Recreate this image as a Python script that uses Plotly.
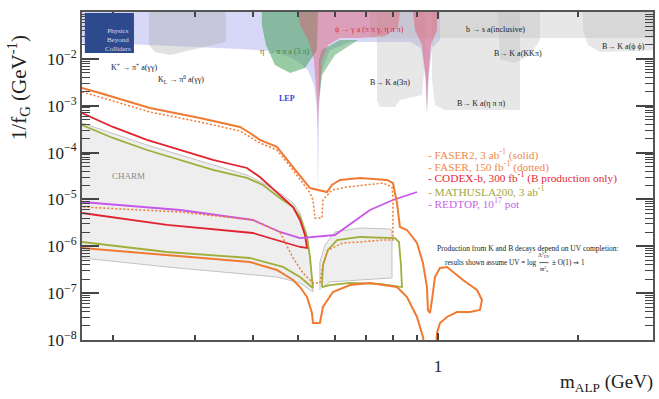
import math
import plotly.graph_objects as go

# ---------------- data (mass in GeV, coupling 1/f_G in GeV^-1) ----------------
faser2_mass = [0.1716, 0.1875, 0.2402, 0.3077, 0.3751, 0.3941, 0.4140, 0.4504, 0.4879, 0.5306,
               0.5771, 0.5916, 0.6154, 0.6796, 0.7768, 0.8003, 0.8163, 0.8284, 0.8577, 0.9013,
               0.9284, 0.9469, 0.9517, 0.9612, 0.9707, 0.9852, 1.0100, 1.0456, 1.1318, 1.2131,
               1.2434, 1.2311, 1.1716, 1.0987, 1.0456, 1.0100, 0.9950, 0.9901, 0.9376, 0.9284,
               0.9013, 0.8577, 0.8163, 0.7140, 0.6468, 0.5944, 0.5658, 0.5574, 0.5385, 0.5358,
               0.5228, 0.5050, 0.4879, 0.4504, 0.3941, 0.2614, 0.1875, 0.1716]
faser2_coup = [2.39e-3, 1.87e-3, 8.94e-4, 5.47e-4, 3.52e-4, 2.62e-4, 1.86e-4, 1.32e-4, 4.92e-5, 1.75e-5,
               1.44e-5, 2.03e-5, 2.60e-5, 2.87e-5, 2.60e-5, 2.24e-5, 8.40e-6, 2.58e-6, 2.23e-6, 1.18e-6,
               4.40e-7, 1.35e-7, 4.37e-8, 3.77e-8, 7.14e-8, 2.21e-7, 3.44e-7, 3.62e-7, 1.91e-7, 1.17e-7,
               7.14e-8, 4.37e-8, 3.96e-8, 3.96e-8, 3.10e-8, 2.31e-8, 1.41e-8, 6.1e-9, 6.1e-9, 1.16e-8,
               3.10e-8, 8.28e-8, 1.35e-7, 1.65e-7, 1.49e-7, 1.06e-7, 5.07e-8, 2.31e-8, 2.31e-8, 3.77e-8,
               8.28e-8, 1.35e-7, 1.91e-7, 3.12e-7, 4.62e-7, 6.52e-7, 8.75e-7, 9.20e-7]

faser_mass = [0.1716, 0.1875, 0.2402, 0.3077, 0.3751, 0.3941, 0.4140, 0.4504, 0.4879, 0.5306,
              0.5385, 0.5438, 0.5630, 0.5658, 0.5771, 0.5916, 0.6372, 0.7616, 0.7963, 0.8003,
              0.8003, 0.7616, 0.6796, 0.6247, 0.5799, 0.5658, 0.5574, 0.5385, 0.5126, 0.4879,
              0.4572, 0.4000, 0.2788, 0.1716]
faser_coup = [1.96e-3, 1.53e-3, 7.35e-4, 4.49e-4, 2.89e-4, 2.15e-4, 1.60e-4, 1.135e-4, 4.25e-5, 1.37e-5,
              9.73e-6, 4.02e-6, 4.02e-6, 9.73e-6, 1.24e-5, 1.59e-5, 1.84e-5, 2.24e-5, 1.84e-5, 1.127e-5,
              1.36e-6, 1.36e-6, 1.235e-6, 1.18e-6, 8.34e-7, 3.99e-7, 1.65e-7, 1.65e-7, 2.69e-7, 5.63e-7,
              2.02e-6, 3.64e-6, 5.40e-6, 6.90e-6]

codex_mass = [0.1716, 0.2000, 0.2367, 0.2788, 0.3281, 0.3883, 0.4140, 0.4572, 0.4879, 0.5050,
              0.5176, 0.5228, 0.5050, 0.4000, 0.2614, 0.1716]
codex_coup = [6.99e-4, 3.52e-4, 1.86e-4, 1.135e-4, 6.95e-5, 4.69e-5, 3.01e-5, 1.24e-5, 6.90e-6, 3.64e-6,
              1.74e-6, 9.20e-7, 9.66e-7, 1.92e-6, 2.85e-6, 5.14e-6]

mathusla_a_mass = [0.1716, 0.2000, 0.2367, 0.2788, 0.3281, 0.3883, 0.4203, 0.4572, 0.4879, 0.5050,
                   0.5228, 0.5306, 0.5385, 0.5050, 0.4642, 0.3941, 0.2614, 0.1716]
mathusla_a_coup = [3.88e-4, 2.05e-4, 1.135e-4, 6.95e-5, 4.25e-5, 2.87e-5, 2.03e-5, 1.07e-5, 6.90e-6, 4.22e-6,
                   1.58e-6, 5.91e-7, 1.29e-7, 2.21e-7, 3.62e-7, 5.63e-7, 7.56e-7, 1.235e-6]
mathusla_b_mass = [0.5630, 0.5658, 0.5799, 0.6064, 0.6796, 0.8083, 0.8243, 0.8325, 0.8366, 0.7504,
                   0.6468, 0.5857, 0.5630]
mathusla_b_coup = [1.35e-7, 3.99e-7, 8.34e-7, 1.36e-6, 1.58e-6, 1.50e-6, 1.235e-6, 3.99e-7, 1.35e-7, 1.57e-7,
                   1.65e-7, 1.49e-7, 1.35e-7]

redtop_mass = [0.1716, 0.2788, 0.4000, 0.4572, 0.5050, 0.6004, 0.7140, 0.8003, 0.9013]
redtop_coup = [8.82e-6, 5.95e-6, 3.64e-6, 2.02e-6, 1.50e-6, 1.74e-6, 5.95e-6, 9.73e-6, 1.44e-5]

charm_a_mass = [0.1716, 0.2367, 0.3883, 0.4203, 0.4572, 0.4879, 0.5050, 0.5228, 0.5306, 0.5385,
                0.5050, 0.4504, 0.2614, 0.1716]
charm_a_coup = [4.28e-4, 1.45e-4, 3.32e-5, 2.24e-5, 1.37e-5, 8.40e-6, 5.14e-6, 1.74e-6, 5.10e-7, 1.06e-7,
                1.65e-7, 2.21e-7, 3.62e-7, 5.63e-7]
charm_b_mass = [0.5574, 0.5574, 0.5715, 0.6004, 0.6796, 0.7885, 0.7963, 0.7963, 0.6796, 0.5857, 0.5630]
charm_b_coup = [1.17e-7, 4.62e-7, 1.07e-6, 2.02e-6, 2.46e-6, 2.34e-6, 2.23e-6, 2.11e-7, 1.91e-7, 1.73e-7, 1.29e-7]

# existing constraints (top)
lep_mass = [0.1716, 1.0100, 1.0100, 0.9707, 0.9563, 0.9469, 0.9376, 0.9193, 0.8706, 0.7504,
            0.6468, 0.5857, 0.5630, 0.5546, 0.5519, 0.5492, 0.5412, 0.5254, 0.5050, 0.4806,
            0.4351, 0.3751, 0.3077, 0.2402, 0.1875, 0.1716]
lep_coup = [1e-1, 1e-1, 2.53e-2, 1.71e-2, 4.52e-3, 6.99e-4, 4.52e-3, 1.71e-2, 2.29e-2, 2.29e-2,
            2.29e-2, 1.55e-2, 5.78e-3, 8.10e-4, 1.127e-5, 8.10e-4, 2.77e-3, 5.78e-3, 8.16e-3, 1.10e-2,
            1.47e-2, 1.62e-2, 1.79e-2, 1.98e-2, 2.18e-2, 2.18e-2]
kdecay_mass = [0.2390, 0.3499, 0.3499, 0.3077, 0.2653, 0.2462, 0.2390]
kdecay_coup = [1e-1, 1e-1, 2.29e-2, 1.71e-2, 1.21e-2, 1.40e-2, 1.98e-2]
eta_mass = [0.4182, 0.5519, 0.5492, 0.5176, 0.4806, 0.4461, 0.4267, 0.4182]
eta_coup = [1e-1, 1e-1, 1.55e-2, 6.38e-3, 4.99e-3, 7.40e-3, 1.98e-2, 5.28e-2]
eta2_mass = [0.5546, 0.5630, 0.6004, 0.6729, 0.6154, 0.5630, 0.5546]
eta2_coup = [1.32e-3, 4.52e-3, 1.21e-2, 2.53e-2, 2.53e-2, 1.55e-2, 9.45e-3]
phi_mass = [0.5000, 0.8284, 0.8203, 0.7691, 0.6796, 0.6154, 0.5799, 0.5630, 0.5546, 0.5519,
            0.5492, 0.5412, 0.5254, 0.5050]
phi_coup = [1e-1, 1e-1, 4.56e-2, 3.07e-2, 2.79e-2, 2.79e-2, 1.98e-2, 9.45e-3, 1.32e-3, 3.03e-4,
            1.32e-3, 9.45e-3, 2.53e-2, 5.28e-2]
phi2_mass = [0.8837, 0.9950, 0.9950, 0.9659, 0.9517, 0.9469, 0.9423, 0.9239, 0.8924]
phi2_coup = [1e-1, 1e-1, 4.13e-2, 1.98e-2, 3.54e-3, 6.99e-4, 3.54e-3, 1.98e-2, 4.13e-2]
bincl_mass = [0.7140, 3.0, 3.0, 0.7140]
bincl_coup = [1e-1, 1e-1, 2.79e-2, 2.79e-2]
b3pi_mass = [0.7393, 0.9376, 0.9376, 0.9239, 0.8284, 0.8083, 0.7504, 0.7393]
b3pi_coup = [1e-1, 1e-1, 9.45e-3, 1.69e-3, 1.32e-3, 9.39e-4, 9.39e-4, 1.32e-3]
betapipi_mass = [0.9707, 1.5008, 1.5008, 1.0353, 0.9852, 0.9707]
betapipi_coup = [1e-1, 1e-1, 8.10e-4, 8.10e-4, 1.035e-3, 3.54e-3]
bkkpi_mass = [1.3463, 1.6572, 1.6572, 1.5770, 1.4640, 1.3597]
bkkpi_coup = [1e-1, 1e-1, 2.53e-2, 1.21e-2, 8.16e-3, 9.45e-3]
bphiphi_mass = [2.0502, 3.0, 3.0, 2.2304, 2.1016, 2.0502]
bphiphi_coup = [1e-1, 1e-1, 1.55e-2, 1.40e-2, 1.98e-2, 4.13e-2]

x_major_vals = [1]
x_major_text = ["1"]
x_minor_vals = [0.2, 0.3, 0.4, 0.5, 0.6, 0.7, 0.8, 0.9, 2]
y_exponents = [-8, -7, -6, -5, -4, -3, -2, -1]

legend_lines = [
    ("- FASER2, 3 ab<sup>-1</sup> (solid)", "#f0884a"),
    ("- FASER, 150 fb<sup>-1</sup> (dotted)", "#f0884a"),
    ("- CODEX-b, 300 fb<sup>-1</sup> (B production only)", "#e4283a"),
    ("- MATHUSLA200, 3 ab<sup>-1</sup>", "#a2a840"),
    ("- REDTOP, 10<sup>17</sup> pot", "#c663e8"),
]

# ---------------- figure ----------------
SERIF = "Liberation Serif"
fig = go.Figure()


def region(m, g, color):
    fig.add_trace(go.Scatter(x=m, y=g, mode="lines", fill="toself", fillcolor=color,
                             line=dict(width=0), hoverinfo="skip"))


region(lep_mass, lep_coup, "rgba(150,150,235,0.38)")
region(kdecay_mass, kdecay_coup, "rgba(170,170,170,0.35)")
region(bincl_mass, bincl_coup, "rgba(185,185,185,0.35)")
region(b3pi_mass, b3pi_coup, "rgba(185,185,185,0.35)")
region(betapipi_mass, betapipi_coup, "rgba(185,185,185,0.35)")
region(bkkpi_mass, bkkpi_coup, "rgba(185,185,185,0.35)")
region(bphiphi_mass, bphiphi_coup, "rgba(185,185,185,0.35)")
region(eta_mass, eta_coup, "rgba(70,160,90,0.55)")
region(eta2_mass, eta2_coup, "rgba(70,160,90,0.5)")
region(phi_mass, phi_coup, "rgba(225,90,110,0.45)")
region(phi2_mass, phi2_coup, "rgba(225,90,110,0.5)")

for m, g in [(charm_a_mass, charm_a_coup), (charm_b_mass, charm_b_coup)]:
    fig.add_trace(go.Scatter(x=m, y=g, mode="lines", fill="toself", fillcolor="rgba(234,234,234,0.8)",
                             line=dict(width=1, color="#c2c2c2"), hoverinfo="skip"))


def curve(m, g, color, width=1.8, dash="solid"):
    fig.add_trace(go.Scatter(x=m, y=g, mode="lines", line=dict(color=color, width=width, dash=dash),
                             hoverinfo="skip"))


curve(mathusla_a_mass, mathusla_a_coup, "#9fae3c")
curve(mathusla_b_mass, mathusla_b_coup, "#9fae3c")
curve(codex_mass, codex_coup, "#e3222f")
curve(redtop_mass, redtop_coup, "#c756ea")
curve(faser_mass, faser_coup, "#f07a32", width=1.5, dash="2px,2px")
curve(faser2_mass, faser2_coup, "#f07a32", width=2)

axis_common = dict(showline=True, linecolor="#555", linewidth=2, mirror="ticks", showgrid=False,
                   zeroline=False, ticks="inside", tickcolor="#444", automargin=False)

fig.update_xaxes(type="log", range=[math.log10(0.1716), math.log10(2.90)],
                 tickmode="array", tickvals=x_major_vals, ticktext=x_major_text,
                 ticklen=7, tickwidth=1.5, tickfont=dict(family=SERIF, size=17, color="#222"),
                 ticklabelstandoff=10,
                 minor=dict(ticks="inside", ticklen=5, tickwidth=1.5, tickcolor="#444",
                            tickmode="array", tickvals=x_minor_vals),
                 **axis_common)

minor_vals = [k * 10.0 ** e for e in range(-8, -1) for k in range(2, 10)]
fig.update_yaxes(type="log", range=[-8, -1], tickmode="array",
                 tickvals=[10.0 ** e for e in y_exponents],
                 ticktext=["10<sup>\u2212%d</sup>" % (-e) for e in y_exponents],
                 ticklen=17, tickwidth=1.5, tickfont=dict(family=SERIF, size=17, color="#222"),
                 minor=dict(ticks="inside", ticklen=8, tickwidth=1, tickcolor="#444",
                            tickmode="array", tickvals=minor_vals),
                 **axis_common)

ann = []


def txt(text, x, y, size=8, color="#222", xanchor="center", **kw):
    ann.append(dict(text=text, x=x, y=y, xref="paper", yref="paper", showarrow=False,
                    xanchor=xanchor, yanchor="middle", font=dict(family=SERIF, size=size, color=color), **kw))


txt("K<sup>+</sup> \u2192 \u03c0<sup>+</sup> a(\u03b3\u03b3)", 0.091, 0.832)
txt("K<sub>L</sub> \u2192 \u03c0<sup>0</sup> a(\u03b3\u03b3)", 0.173, 0.793)
txt("\u03b7 \u2192 \u03c0 \u03c0 a (3 \u03c0)", 0.356, 0.881, color="#3a8a48")
txt("<b>LEP</b>", 0.359, 0.735, color="#3c3ce0")
txt("\u03d5 \u2192 \u03b3 a (\u03c0 \u03c0 \u03b3, \u03b7 \u03c0 \u03c0)", 0.504, 0.948, color="#e0303a")
txt("b \u2192 s a(inclusive)", 0.725, 0.948)
txt("B\u2192 K a(KK\u03c0)", 0.764, 0.872)
txt("B\u2192 K a(\u03d5 \u03d5)", 0.949, 0.896)
txt("B\u2192 K a(3\u03c0)", 0.539, 0.784)
txt("B\u2192 K a(\u03b7 \u03c0 \u03c0)", 0.700, 0.720)
txt("CHARM", 0.081, 0.5, size=9, color="#8a8a8a")

leg_y = [0.567, 0.530, 0.494, 0.455, 0.418]
for (t, c), yy in zip(legend_lines, leg_y):
    txt(t, 0.602, yy, size=11.3, color=c, xanchor="left")

txt("Production from K and B decays depend on UV completion:", 0.781, 0.280, size=7.5)
txt("results shown assume UV = log", 0.800, 0.236, size=7.2, xanchor="right")
txt("\u039b<sup>2</sup><sub>UV</sub>", 0.809, 0.259, size=5.5)
txt("m<sup>2</sup><sub>a</sub>", 0.809, 0.215, size=5.5)
txt("\u00b1 O(1) \u21d2 1", 0.820, 0.236, size=7.2, xanchor="left")

# logo
txt("Physics<br>Beyond<br>Colliders", 0.063, 0.915, size=7, color="#d4ddf8")

# axis titles
txt("1/f<sub>G</sub> (GeV<sup>-1</sup>)", -0.112, 0.768, size=21, textangle=-90)
txt("m<sub>ALP</sub> (GeV)", 1.003, -0.131, size=19, xanchor="right")

fig.update_layout(
    width=659, height=399, margin=dict(l=82, r=6, t=12, b=59, autoexpand=False),
    paper_bgcolor="white", plot_bgcolor="white", showlegend=False,
    font=dict(family=SERIF, color="#222"),
    annotations=ann,
    shapes=[
        dict(type="rect", xref="paper", yref="paper", x0=0.005, x1=0.091, y0=0.875, y1=0.997,
             fillcolor="#2c4a8c", line=dict(width=0), layer="above"),
        dict(type="line", xref="paper", yref="paper", x0=0.801, x1=0.817, y0=0.236, y1=0.236,
             line=dict(color="#333", width=0.8)),
    ],
)

fig.write_html("out.html", config={"displayModeBar": False},
               post_script="document.body.style.margin='0';")
